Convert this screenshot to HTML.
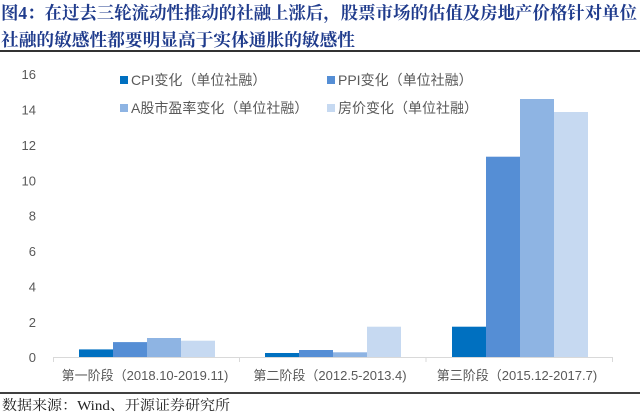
<!DOCTYPE html>
<html>
<head>
<meta charset="utf-8">
<style>
  html,body{margin:0;padding:0;background:#fff;}
  body{width:640px;height:418px;overflow:hidden;}
  svg{display:block;}
  .title{font-family:"Liberation Serif","Noto Serif CJK SC",serif;font-weight:700;font-size:17.5px;fill:#1f3b8c;}
  .tick{font-family:"Liberation Sans","Noto Sans CJK SC",sans-serif;font-size:13px;fill:#595959;}
  .leg{font-family:"Liberation Sans","Noto Sans CJK SC",sans-serif;font-size:14px;fill:#595959;}
  .cat{font-family:"Liberation Sans","Noto Sans CJK SC",sans-serif;font-size:13px;fill:#595959;}
  .src{font-family:"Liberation Serif","Noto Serif CJK SC",serif;font-size:14px;fill:#222;}
</style>
</head>
<body>
<svg width="640" height="418" viewBox="0 0 640 418" xmlns="http://www.w3.org/2000/svg">
  <rect width="640" height="418" fill="#fff"/>
  <!-- Title -->
  <text class="title" x="1" y="19" textLength="636" lengthAdjust="spacingAndGlyphs">图4：在过去三轮流动性推动的社融上涨后，股票市场的估值及房地产价格针对单位</text>
  <text class="title" x="1" y="46" textLength="354" lengthAdjust="spacingAndGlyphs">社融的敏感性都要明显高于实体通胀的敏感性</text>
  <rect x="0" y="50" width="640" height="2" fill="#333"/>

  <!-- Y tick labels -->
  <g class="tick" text-anchor="end">
    <text x="36" y="79">16</text>
    <text x="36" y="114.5">14</text>
    <text x="36" y="150">12</text>
    <text x="36" y="185.5">10</text>
    <text x="36" y="220.5">8</text>
    <text x="36" y="256">6</text>
    <text x="36" y="291.5">4</text>
    <text x="36" y="327">2</text>
    <text x="36" y="362">0</text>
  </g>

  <!-- Legend -->
  <rect x="120" y="76" width="8" height="8" fill="#0070c0"/>
  <text class="leg" x="131" y="85">CPI变化（单位社融）</text>
  <rect x="327" y="76" width="8" height="8" fill="#558ed5"/>
  <text class="leg" x="338" y="85">PPI变化（单位社融）</text>
  <rect x="120" y="104" width="8" height="8" fill="#8eb4e3"/>
  <text class="leg" x="131" y="113">A股市盈率变化（单位社融）</text>
  <rect x="327" y="104" width="8" height="8" fill="#c6d9f1"/>
  <text class="leg" x="338" y="113">房价变化（单位社融）</text>

  <!-- Bars group 1 -->
  <rect x="79" y="349.4" width="34" height="8.1" fill="#0070c0"/>
  <rect x="113" y="342.1" width="34" height="15.4" fill="#558ed5"/>
  <rect x="147" y="338" width="34" height="19.5" fill="#8eb4e3"/>
  <rect x="181" y="340.7" width="34" height="16.8" fill="#c6d9f1"/>

  <!-- Bars group 2 -->
  <rect x="265" y="353" width="34" height="4.5" fill="#0070c0"/>
  <rect x="299" y="350" width="34" height="7.5" fill="#558ed5"/>
  <rect x="333" y="352.3" width="34" height="5.2" fill="#8eb4e3"/>
  <rect x="367" y="326.7" width="34" height="30.8" fill="#c6d9f1"/>

  <!-- Bars group 3 -->
  <rect x="452" y="326.7" width="34" height="30.8" fill="#0070c0"/>
  <rect x="486" y="156.7" width="34" height="200.8" fill="#558ed5"/>
  <rect x="520" y="99" width="34" height="258.5" fill="#8eb4e3"/>
  <rect x="554" y="112" width="34" height="245.5" fill="#c6d9f1"/>

  <!-- X axis -->
  <line x1="53" y1="357.5" x2="613" y2="357.5" stroke="#d9d9d9" stroke-width="1"/>
  <line x1="53.5" y1="357.5" x2="53.5" y2="362" stroke="#d9d9d9" stroke-width="1"/>
  <line x1="239.5" y1="357.5" x2="239.5" y2="362" stroke="#d9d9d9" stroke-width="1"/>
  <line x1="426" y1="357.5" x2="426" y2="362" stroke="#d9d9d9" stroke-width="1"/>
  <line x1="612.5" y1="357.5" x2="612.5" y2="362" stroke="#d9d9d9" stroke-width="1"/>

  <!-- Category labels -->
  <g class="cat" text-anchor="middle">
    <text x="145" y="380">第一阶段（2018.10-2019.11)</text>
    <text x="330" y="380">第二阶段（2012.5-2013.4)</text>
    <text x="517" y="380">第三阶段（2015.12-2017.7)</text>
  </g>

  <!-- Bottom rule and source -->
  <rect x="0" y="392" width="640" height="2" fill="#404040"/>
  <text class="src" x="2" y="410" textLength="228" lengthAdjust="spacingAndGlyphs">数据来源：Wind、开源证券研究所</text>
</svg>
</body>
</html>
